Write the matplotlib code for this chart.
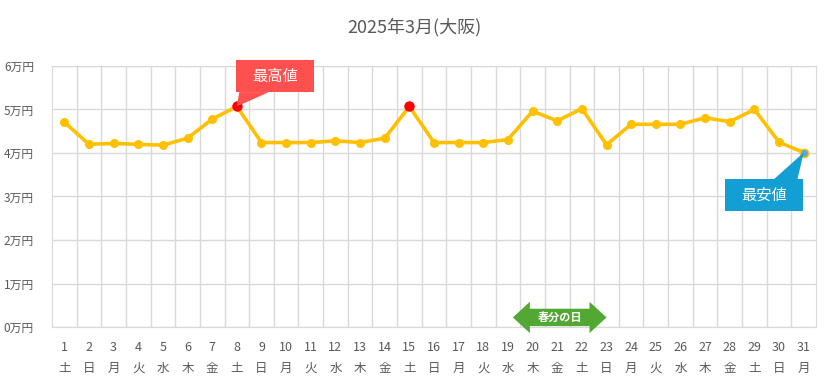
import matplotlib.pyplot as plt
from matplotlib.patches import Polygon, Rectangle

plt.rcParams['font.family'] = ['Noto Sans CJK JP', 'DejaVu Sans']

# --- data (万円) ---
days = list(range(1, 32))
weekdays = ['土', '日', '月', '火', '水', '木', '金'] * 5
weekdays = weekdays[:31]
prices = [4.71, 4.20, 4.22, 4.20, 4.18, 4.34, 4.78, 5.07, 4.24, 4.24,
          4.24, 4.28, 4.24, 4.34, 5.07, 4.24, 4.24, 4.24, 4.31, 4.96,
          4.74, 5.02, 4.19, 4.66, 4.66, 4.66, 4.81, 4.72, 5.00, 4.25, 4.01]
y_ticks = [0, 1, 2, 3, 4, 5, 6]
y_labels = [f'{v}万円' for v in y_ticks]

line_col = '#FFC000'
grid_col = '#D9D9D9'
txt_col = '#595959'

fig = plt.figure(figsize=(8.29, 3.92), dpi=100)
ax = fig.add_axes([52 / 829, 65 / 392, 764 / 829, 261 / 392])

ax.plot(days, prices, color=line_col, lw=2.6, marker='o', ms=5.5,
        mec=line_col, mfc=line_col, zorder=3)

hi = max(prices)
lo = min(prices)
hi_days = [d for d, p in zip(days, prices) if p == hi]
lo_days = [d for d, p in zip(days, prices) if p == lo]
ax.plot(hi_days, [hi] * len(hi_days), 'o', color='#FF0000', ms=6.5, zorder=4)
ax.plot(lo_days, [lo] * len(lo_days), 'o', mfc='#5BA8DC', mec=line_col, mew=1, ms=6, zorder=4)

ax.set_xlim(0.5, 31.5)
ax.set_ylim(0, 6)
ax.set_xticks(days)
ax.set_xticklabels([f'{d}\n{w}' for d, w in zip(days, weekdays)],
                   color=txt_col, fontsize=9, linespacing=1.8)
ax.set_yticks(y_ticks)
ax.set_yticklabels(y_labels, color=txt_col, fontsize=8.5)
ax.set_xticks([d + 0.5 for d in days[:-1]], minor=True)
ax.tick_params(which='both', length=0, pad=10)
ax.tick_params(axis='y', pad=13)
ax.grid(which='minor', axis='x', color=grid_col, lw=1)
ax.grid(which='major', axis='y', color=grid_col, lw=1)
for s in ax.spines.values():
    s.set_color(grid_col)

fig.text(0.5, 0.93, '2025年3月(大阪)', ha='center', va='center',
         fontsize=13, color=txt_col)

# callouts (box size in data units ~ 78x32 px)
bw, bh = 3.16, 0.74


def callout(cx, cy, px, py, base0, base1, text, color, top):
    ax.add_patch(Rectangle((cx - bw / 2, cy - bh / 2), bw, bh, fc=color,
                           ec='none', zorder=5, clip_on=False))
    ey = cy + bh / 2 if top else cy - bh / 2
    ax.add_patch(Polygon([(base0, ey), (base1, ey), (px, py)], closed=True,
                         fc=color, ec='none', zorder=5, clip_on=False))
    ax.text(cx, cy, text, ha='center', va='center', color='white',
            fontsize=11, zorder=6)


callout(9.56, 5.77, hi_days[0], hi, 8.1, 9.3, '最高値', '#FF5050', False)
callout(29.4, 3.03, lo_days[0], lo, 29.8, 30.75, '最安値', '#139FD4', True)

# holiday double arrow
x0, x1, yc = 19.2, 23.0, 0.22
hl, hh, bhh = 0.69, 0.36, 0.20
ax.add_patch(Polygon([(x0, yc), (x0 + hl, yc + hh), (x0 + hl, yc + bhh),
                      (x1 - hl, yc + bhh), (x1 - hl, yc + hh), (x1, yc),
                      (x1 - hl, yc - hh), (x1 - hl, yc - bhh),
                      (x0 + hl, yc - bhh), (x0 + hl, yc - hh)],
                     closed=True, fc='#52A833', ec='none', zorder=5,
                     clip_on=False))
ax.text((x0 + x1) / 2, yc, '春分の日', ha='center', va='center',
        color='white', fontsize=8, fontweight='bold', zorder=6)

fig.savefig('out.png', dpi=100)
